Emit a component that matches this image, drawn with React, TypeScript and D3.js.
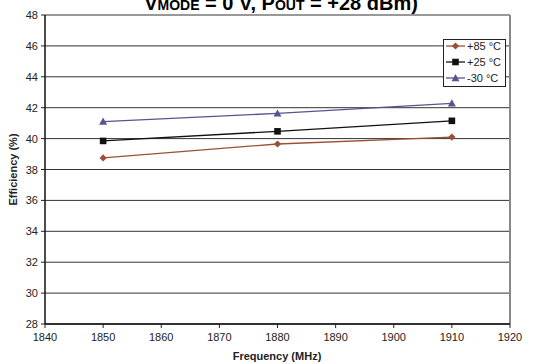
import React from "react";
import * as d3 from "d3";

const frequencies = [1850, 1880, 1910];
const seriesNames = ["+85 °C", "+25 °C", "-30 °C"];
const eff85 = [38.75, 39.65, 40.1];
const eff25 = [39.85, 40.47, 41.15];
const effM30 = [41.1, 41.63, 42.28];
const xTicks = [1840, 1850, 1860, 1870, 1880, 1890, 1900, 1910, 1920];
const yTicks = [28, 30, 32, 34, 36, 38, 40, 42, 44, 46, 48];

const W = 552, H = 364;
const L = 45, R = 510, T = 15, B = 324;

const colors = ["#9b4f35", "#111111", "#55558f"];
const markers = ["diamond", "square", "triangle"];

function Marker({ type, x, y, color }: { type: string; x: number; y: number; color: string }) {
  if (type === "diamond") {
    const s = 3.6;
    return <path d={`M${x},${y - s}L${x + s},${y}L${x},${y + s}L${x - s},${y}Z`} fill={color} />;
  }
  if (type === "square") {
    const s = 3.3;
    return <rect x={x - s} y={y - s} width={2 * s} height={2 * s} fill={color} />;
  }
  const s = 4;
  return <path d={`M${x},${y - s}L${x + s},${y + s * 0.8}L${x - s},${y + s * 0.8}Z`} fill={color} />;
}

export default function App() {
  const x = d3.scaleLinear().domain([1840, 1920]).range([L, R]);
  const y = d3.scaleLinear().domain([28, 48]).range([B, T]);
  const data = [eff85, eff25, effM30];
  const line = d3
    .line<number>()
    .x((_, i) => x(frequencies[i]))
    .y((d) => y(d));
  const font = "Liberation Sans, Arial, sans-serif";

  return (
    <svg width={W} height={H} style={{ position: "absolute", left: 0, top: 0 }} fontFamily={font}>
      <rect width={W} height={H} fill="#fff" />
      {/* title (clipped at top, as in the reference) */}
      <text x={281} y={9.5} textAnchor="middle" fontSize={20} fontWeight="bold" fill="#000">
        <tspan>V</tspan>
        <tspan fontSize={14}>MODE</tspan>
        <tspan> = 0 V, P</tspan>
        <tspan fontSize={14}>OUT</tspan>
        <tspan> = +28 dBm)</tspan>
      </text>
      {/* grid */}
      {yTicks.map((t) => (
        <line key={t} x1={L} x2={R} y1={y(t)} y2={y(t)} stroke="#333" strokeWidth={1} />
      ))}
      {/* borders */}
      <line x1={R} x2={R} y1={T} y2={B} stroke="#888" strokeWidth={2} />
      <line x1={L} x2={L} y1={T} y2={B} stroke="#111" strokeWidth={1.5} />
      <line x1={L} x2={R} y1={B} y2={B} stroke="#111" strokeWidth={1.5} />
      {/* y ticks */}
      {yTicks.map((t) => (
        <g key={t}>
          <line x1={L - 4} x2={L} y1={y(t)} y2={y(t)} stroke="#222" />
          <text x={L - 7} y={y(t) + 4} textAnchor="end" fontSize={11} fill="#222">
            {t}
          </text>
        </g>
      ))}
      {/* x ticks */}
      {xTicks.map((t) => (
        <g key={t}>
          <line x1={x(t)} x2={x(t)} y1={B} y2={B + 4} stroke="#222" />
          <text x={x(t)} y={B + 17} textAnchor="middle" fontSize={11} fill="#222">
            {t}
          </text>
        </g>
      ))}
      <text x={277} y={360} textAnchor="middle" fontSize={11} fontWeight="bold" fill="#222">
        Frequency (MHz)
      </text>
      <text
        transform={`translate(17,${(T + B) / 2}) rotate(-90)`}
        textAnchor="middle"
        fontSize={11}
        fontWeight="bold"
        fill="#222"
      >
        Efficiency (%)
      </text>
      {/* series */}
      {data.map((s, si) => (
        <g key={si}>
          <path d={line(s) || ""} fill="none" stroke={colors[si]} strokeWidth={1.3} />
          {s.map((v, i) => (
            <Marker key={i} type={markers[si]} x={x(frequencies[i])} y={y(v)} color={colors[si]} />
          ))}
        </g>
      ))}
      {/* legend */}
      <rect x={443.5} y={39.5} width={62} height={47} fill="#fff" stroke="#222" />
      {seriesNames.map((n, i) => {
        const ly = 46 + i * 16;
        return (
          <g key={n}>
            <line x1={446} x2={465} y1={ly} y2={ly} stroke={colors[i]} strokeWidth={1.3} />
            <Marker type={markers[i]} x={455.5} y={ly} color={colors[i]} />
            <text x={467} y={ly + 4} fontSize={11} fill="#222">
              {n}
            </text>
          </g>
        );
      })}
    </svg>
  );
}
